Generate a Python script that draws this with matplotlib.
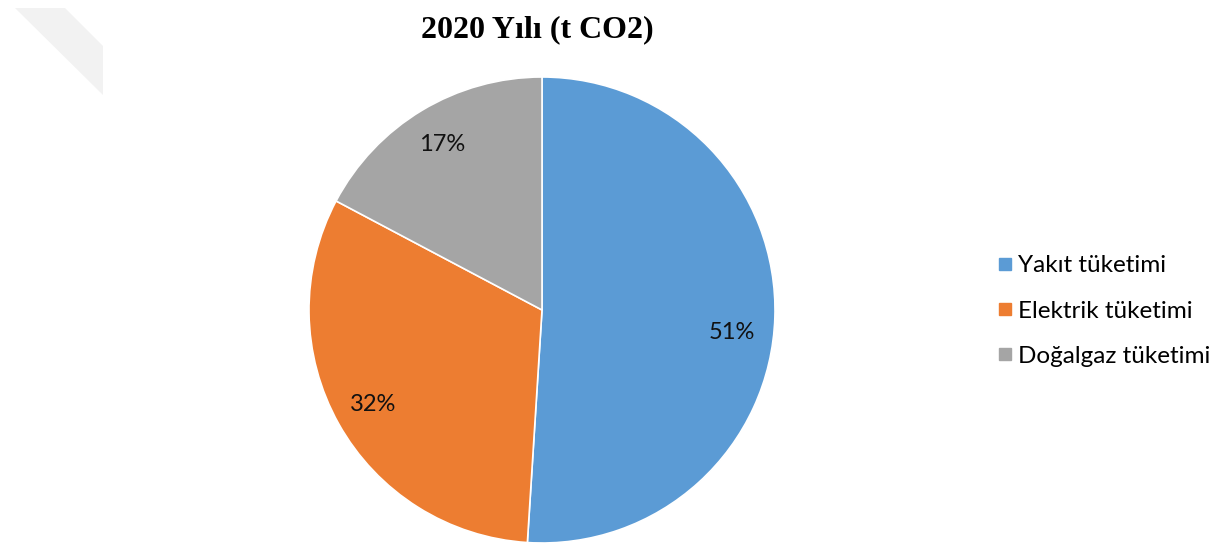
import numpy as np
import matplotlib
matplotlib.use("Agg")
import matplotlib.pyplot as plt
from matplotlib.patches import Polygon
from matplotlib.lines import Line2D

# Emission shares by source (t CO2, 2020)
categories = ["Yakıt tüketimi", "Elektrik tüketimi", "Doğalgaz tüketimi"]
values = [51.0, 31.75, 17.25]
colors = ["#5B9BD5", "#ED7D31", "#A5A5A5"]
title = "2020 Yılı (t CO2)"

W, H = 1227, 547
fig = plt.figure(figsize=(W / 100, H / 100), dpi=100)
fig.patch.set_facecolor("white")

# faint diagonal band in the top-left corner
def px(x, y):
    return (x / W, 1 - y / H)

band = Polygon([px(15, 8), px(65, 8), px(103, 46), px(103, 95)],
               closed=True, transform=fig.transFigure,
               facecolor="#f2f2f2", edgecolor="none", zorder=0)
fig.add_artist(band)

# pie axes: centre (542, 310), radius 233 px
cx, cy, r = 542, 310, 233
ax = fig.add_axes([(cx - r) / W, (H - cy - r) / H, 2 * r / W, 2 * r / H])
ax.set_aspect("equal")

wedges, texts, autotexts = ax.pie(
    values, colors=colors, startangle=90, counterclock=False,
    autopct="%.0f%%", pctdistance=0.83, radius=1,
    wedgeprops=dict(edgecolor="white", linewidth=1.2),
    textprops=dict(fontfamily="Lato", fontsize=17, color="#111111"),
)

# the large slice's label sits a little below its bisector
w0 = wedges[0]
ang = np.deg2rad((w0.theta1 + w0.theta2) / 2 - 5)
autotexts[0].set_position((0.82 * np.cos(ang), 0.82 * np.sin(ang)))

ax.set_xlim(-1, 1)
ax.set_ylim(-1, 1)
ax.axis("off")

fig.text(537 / W, 1 - 30 / H, title, ha="center", va="center",
         fontfamily="Liberation Serif", fontweight="bold", fontsize=23)

handles = [Line2D([0], [0], marker="s", linestyle="none", markersize=9,
                  markerfacecolor=c, markeredgecolor=c) for c in colors]
fig.legend(handles, categories, loc="center left",
           bbox_to_anchor=(986 / W, 1 - 311 / H), frameon=False,
           prop=dict(family="Lato", size=17.5), labelspacing=1.0,
           handlelength=0.6, handletextpad=0.2, borderpad=0)

fig.savefig("out.png", dpi=100, facecolor="white")
